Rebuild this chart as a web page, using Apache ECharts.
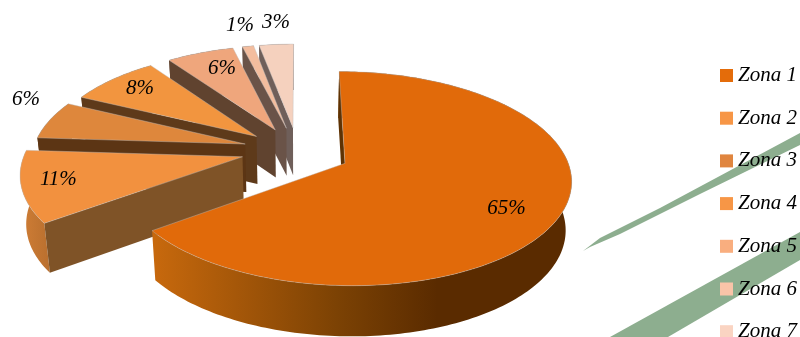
<!DOCTYPE html>
<html>
<head>
<meta charset="utf-8">
<style>html,body{margin:0;padding:0;background:#fff}#c{width:800px;height:337px}</style>
<script src="https://cdn.jsdelivr.net/npm/echarts@6/dist/echarts.min.js"></script>
</head>
<body>
<div id="c"></div>
<script>
const categories = ['Zona 1','Zona 2','Zona 3','Zona 4','Zona 5','Zona 6','Zona 7'];
const shares = [65, 11, 6, 8, 6, 1, 3];

const legendColors = ['#E46C0A','#F79646','#E0853F','#F79646','#F9AE7F','#F9C4A8','#FAD4C2'];
const topColors = ['#E16A0A','#F2913F','#DE873C','#F2953F','#EFA67C','#F3BD9E','#F5D1BE'];
const sideColors = ['#5E3203','#7F5327','#5C3514','#5E3A1A','#60432F','#6A5348','#6F5F5A'];
const rimColors = [
  [[0,'#C8690D'],[0.44,'#7C4204'],[0.68,'#5A2B00'],[1,'#5A2B00']],
  [[0,'#D07E36'],[1,'#B96F2E']],
  [[0,'#7A4A20'],[1,'#7A4A20']],
  [[0,'#6E4722'],[1,'#6E4722']],
  [[0,'#60432F'],[1,'#60432F']],
  [[0,'#6A5348'],[1,'#6A5348']],
  [[0,'#6F5F5A'],[1,'#6F5F5A']]
];
// where each percent label sits: radius fraction, angle shift in degrees
const labelRadius = [0.80, 0.80, 1.178, 0.779, 0.753, 1.29, 1.308];
const labelShift = [3.3, 2.8, 10.7, 3.4, 5.1, 2, 2.3];
// how far each slice is pulled out of the pie, its width squeeze and upward lift in pixels
const explodeBy = [0.236, 0.26, 0.25, 0.25, 0.25, 0.25, 0.25];
const widthBy = [1, 0.985, 0.965, 0.965, 0.96, 0.97, 0.98];
const liftBy = [0, 3, 2, 0, 0, 0, 0];

// perspective view of the pie plane
const view = {cx:298, cy:152.3, a:220, s:101.8, k:0.14, drop:48, shrink:0.978, stretch:1.02, labelNudge:-5};
const total = shares.reduce((p,c)=>p+c,0);
const starts = [];
shares.reduce((acc,v,i)=>{starts[i]=acc;return acc+v;},0);

function project(X,Y,bottom,lift){
  const d = 1 + view.k*Y;
  const fx = bottom ? view.shrink : 1;
  const fy = bottom ? view.stretch : 1;
  return [view.cx + fx*view.a*X/d, view.cy - (lift||0) + (bottom?view.drop:0) - fy*view.s*Y/d];
}
function renderSlice(i){
  const from = starts[i]/total*2*Math.PI;
  const to = (starts[i]+shares[i])/total*2*Math.PI;
  const mid = (from+to)/2;
  const ox = explodeBy[i]*Math.sin(mid), oy = explodeBy[i]*Math.cos(mid);
  const n = Math.max(3,Math.ceil((to-from)/0.02));
  const arcTop=[], arcBot=[];
  for(let j=0;j<=n;j++){
    const t = from+(to-from)*j/n;
    const X=ox+widthBy[i]*Math.sin(t), Y=oy+Math.cos(t);
    arcTop.push(project(X,Y,false,liftBy[i]));
    arcBot.push(project(X,Y,true,liftBy[i]));
  }
  const apexTop = project(ox,oy,false,liftBy[i]), apexBot = project(ox,oy,true,liftBy[i]);
  const rimFill = new echarts.graphic.LinearGradient(0,0,1,0,
    rimColors[i].map(s=>({offset:s[0],color:s[1]})));
  const lt = mid+labelShift[i]*Math.PI/180, lr=labelRadius[i];
  const lp = project(ox+lr*Math.sin(lt), oy+lr*Math.cos(lt), false, 0);
  return {
    type:'group',
    children:[
      {type:'polygon',shape:{points:arcTop.concat(arcBot.slice().reverse())},style:{fill:rimFill}},
      {type:'polygon',shape:{points:[apexTop,arcTop[0],arcBot[0],apexBot]},style:{fill:sideColors[i]}},
      {type:'polygon',shape:{points:[apexTop].concat(arcTop)},
        style:{fill:topColors[i],stroke:'rgba(190,190,190,0.7)',lineWidth:0.6}},
      {type:'text',style:{x:lp[0]+view.labelNudge,y:lp[1],text:shares[i]+'%',fill:'#000',align:'center',verticalAlign:'middle',
        font:'italic 21px "Liberation Serif"'},z2:10}
    ]
  };
}
const chart = echarts.init(document.getElementById('c'),null,{renderer:'canvas'});
chart.setOption({
  animation:false,
  backgroundColor:'#fff',
  color:legendColors,
  legend:{
    orient:'vertical',left:720,top:65,height:400,itemWidth:13,itemHeight:13,itemGap:21.7,padding:0,
    icon:'rect',data:categories,selectedMode:false,
    textStyle:{fontFamily:'Liberation Serif',fontStyle:'italic',fontSize:21,color:'#000',lineHeight:18}
  },
  graphic:[
    {type:'polygon',z:0,silent:true,shape:{points:[[583,251],[600,238],[660,208],[800,133],[800,145],[700,194],[620,234],[590,247]]},style:{fill:'#8DAE8F'}},
    {type:'polygon',z:0,silent:true,shape:{points:[[610,337],[800,232],[800,260],[668,337]]},style:{fill:'#8DAE8F'}}
  ],
  series:categories.map((name,i)=>({
    type:'custom',name,coordinateSystem:'none',z:2+(categories.length-i),
    silent:true,clip:false,
    itemStyle:{color:legendColors[i]},
    data:[[shares[i]]],
    renderItem:()=>renderSlice(i)
  }))
});
</script>
</body>
</html>
